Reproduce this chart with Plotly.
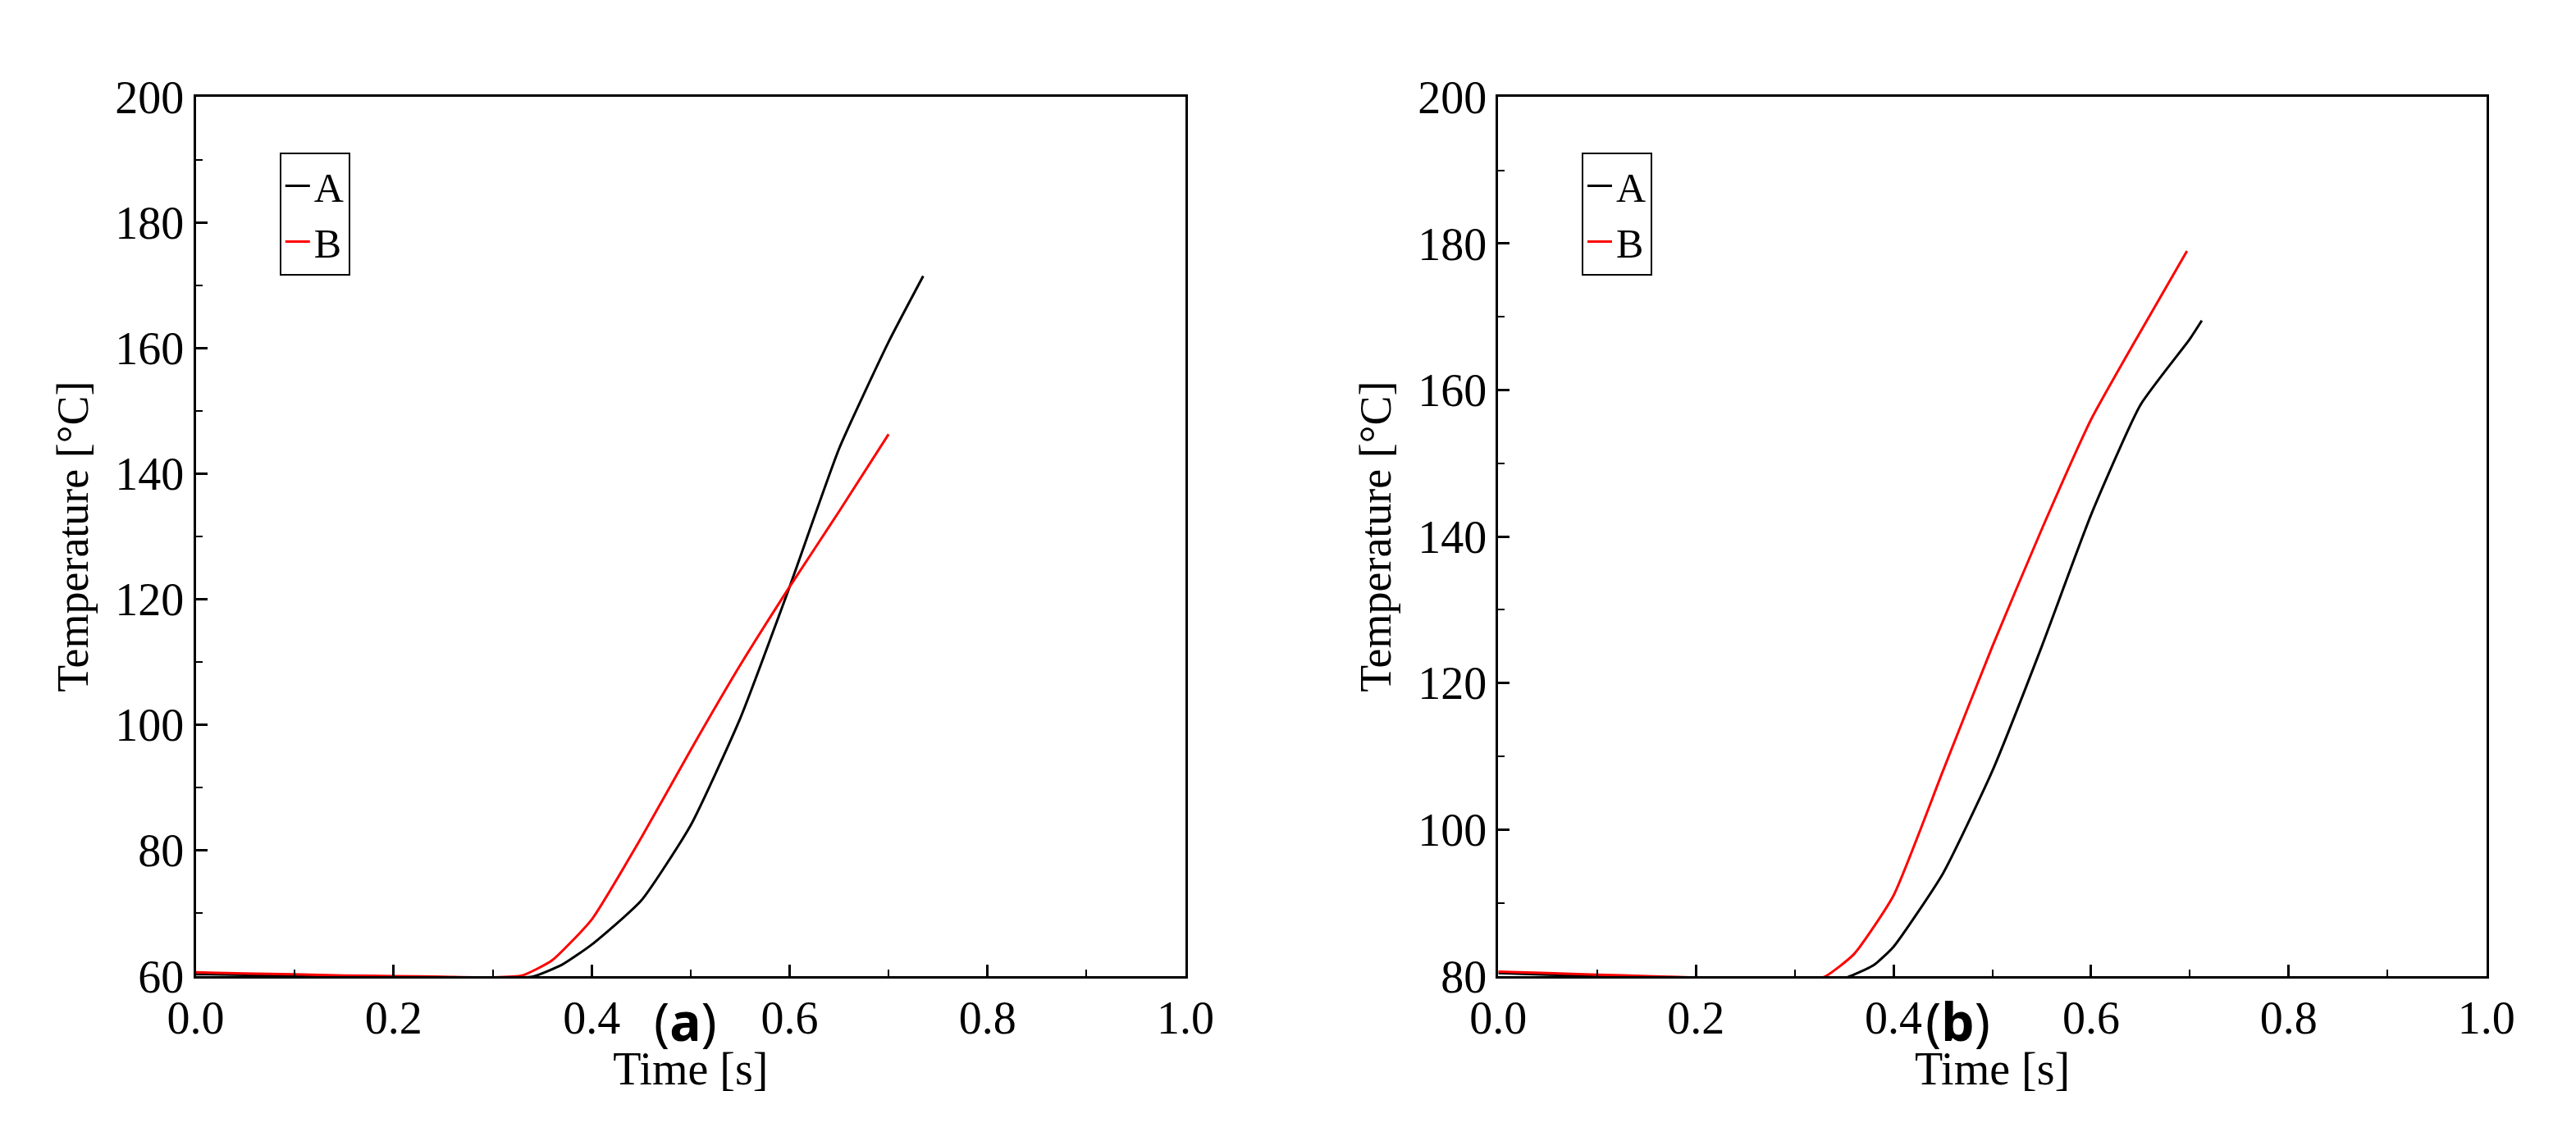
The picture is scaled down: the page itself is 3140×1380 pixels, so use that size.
import plotly.graph_objects as go

# Panel (a)
a_A_t = [0.0, 0.05, 0.1, 0.15, 0.2, 0.25, 0.3, 0.34, 0.37, 0.4, 0.45, 0.5, 0.55, 0.6, 0.65, 0.7, 0.735]
a_A_T = [60.3, 60.2, 60.1, 60.0, 59.9, 59.8, 59.8, 59.9, 61.8, 65, 72, 84, 101, 122, 144, 161, 171.5]
a_B_t = [0.0, 0.05, 0.1, 0.15, 0.2, 0.25, 0.3, 0.33, 0.36, 0.4, 0.45, 0.5, 0.55, 0.6, 0.65, 0.7]
a_B_T = [60.6, 60.4, 60.3, 60.1, 60.0, 59.9, 59.8, 60.1, 62.5, 69, 82, 96, 109.5, 122, 134, 146.3]
# Panel (b)
b_A_t = [0.0, 0.05, 0.1, 0.15, 0.2, 0.25, 0.3, 0.35, 0.38, 0.4, 0.45, 0.5, 0.55, 0.6, 0.65, 0.7, 0.712]
b_A_T = [80.4, 80.2, 80.0, 79.8, 79.6, 79.5, 79.4, 79.7, 81.5, 84, 94, 108, 125, 143, 158, 167, 169.5]
b_B_t = [0.0, 0.05, 0.1, 0.15, 0.2, 0.25, 0.3, 0.33, 0.36, 0.4, 0.45, 0.5, 0.55, 0.6, 0.65, 0.697]
b_B_T = [80.6, 80.4, 80.2, 80.0, 79.8, 79.5, 79.4, 79.9, 83, 91, 108, 125, 141, 156, 168, 179]

font = "Liberation Serif"
fig = go.Figure()
ls = dict(width=3, shape="spline", smoothing=0.5)
fig.add_trace(go.Scatter(x=a_A_t, y=a_A_T, name="A", mode="lines", line=dict(ls, color="black"), xaxis="x", yaxis="y", legend="legend"))
fig.add_trace(go.Scatter(x=a_B_t, y=a_B_T, name="B", mode="lines", line=dict(ls, color="red"), xaxis="x", yaxis="y", legend="legend"))
fig.add_trace(go.Scatter(x=b_A_t, y=b_A_T, name="A", mode="lines", line=dict(ls, color="black"), xaxis="x2", yaxis="y2", legend="legend2"))
fig.add_trace(go.Scatter(x=b_B_t, y=b_B_T, name="B", mode="lines", line=dict(ls, color="red"), xaxis="x2", yaxis="y2", legend="legend2"))

common = dict(showline=True, linecolor="black", linewidth=3, mirror=True, ticks="inside", ticklen=14, tickwidth=3,
              tickcolor="black", showgrid=False, zeroline=False, tickfont=dict(family=font, size=56, color="black"),
              minor=dict(ticks="inside", ticklen=8, tickwidth=2, tickcolor="black"))
xcommon = dict(common, range=[0, 1], dtick=0.2, tickformat=".1f", minor=dict(common["minor"], dtick=0.1),
               title=dict(text="Time [s]", font=dict(family=font, size=56, color="black"), standoff=6))
ycommon = dict(common, title=dict(text="Temperature [°C]", font=dict(family=font, size=54, color="black"), standoff=16))

fig.update_layout(
    width=3140, height=1380, margin=dict(l=0, r=0, t=0, b=0),
    paper_bgcolor="white", plot_bgcolor="white", showlegend=True,
    xaxis=dict(xcommon, domain=[0.0637, 0.4567], anchor="y"),
    yaxis=dict(ycommon, domain=[0.126, 0.939], anchor="x", range=[60, 200], dtick=20, minor=dict(common["minor"], dtick=10)),
    xaxis2=dict(xcommon, domain=[0.5809, 0.9732], anchor="y2"),
    yaxis2=dict(ycommon, domain=[0.126, 0.939], anchor="x2", range=[80, 200], dtick=20, minor=dict(common["minor"], dtick=10)),
    legend=dict(x=0.097, y=0.888, xanchor="left", yanchor="top", bordercolor="black", borderwidth=2,
                font=dict(family=font, size=50, color="black"), bgcolor="white", tracegroupgap=0),
    legend2=dict(x=0.614, y=0.888, xanchor="left", yanchor="top", bordercolor="black", borderwidth=2,
                 font=dict(family=font, size=50, color="black"), bgcolor="white", tracegroupgap=0),
    annotations=[
        dict(text="(<b>a</b>)", x=0.245, y=0.05, xref="paper", yref="paper", showarrow=False,
             font=dict(family="Noto Sans", size=64, color="black")),
        dict(text="(<b>b</b>)", x=0.777, y=0.05, xref="paper", yref="paper", showarrow=False,
             font=dict(family="Noto Sans", size=64, color="black")),
    ],
)
fig.write_html("out.html")
